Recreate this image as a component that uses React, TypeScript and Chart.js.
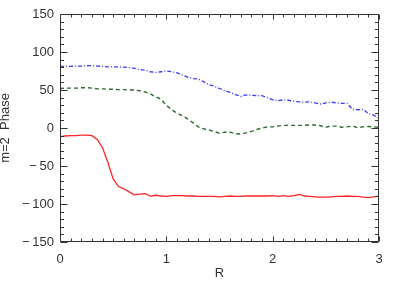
import React, { useEffect, useRef } from "react";
import { Chart, registerables } from "chart.js";

Chart.register(...registerables);

const R = [
  0.0, 0.05, 0.1, 0.15, 0.2, 0.25, 0.3, 0.35, 0.4, 0.45, 0.5, 0.55, 0.6, 0.65, 0.7, 0.75,
  0.8, 0.85, 0.9, 0.95, 1.0, 1.05, 1.1, 1.15, 1.2, 1.25, 1.3, 1.35, 1.4, 1.45, 1.5, 1.55,
  1.6, 1.65, 1.7, 1.75, 1.8, 1.85, 1.9, 1.95, 2.0, 2.05, 2.1, 2.15, 2.2, 2.25, 2.3, 2.35,
  2.4, 2.45, 2.5, 2.55, 2.6, 2.65, 2.7, 2.75, 2.8, 2.85, 2.9, 2.95, 3.0,
];

const bluePhase = [
  81, 81, 81, 81.5, 81.5, 82, 82, 81.5, 81, 80.5, 80.5, 80.5, 80, 79.5, 78.5, 77,
  76, 74, 73, 74, 75, 74, 72.5, 70, 67, 65, 64.5, 61, 57, 55, 52, 49,
  47, 44, 41.5, 43.5, 43, 42.5, 42.5, 40, 37, 36, 37, 36.5, 35, 34.5, 34, 34.5,
  33, 31.5, 33, 34, 33, 32.5, 32.5, 24.5, 24, 24.5, 19, 17, 13,
];

const greenPhase = [
  52, 52.5, 52.5, 52.5, 53, 53, 52.5, 51.5, 51.5, 51, 51, 50.5, 50.5, 50, 50, 49,
  47.5, 45, 41, 38, 30, 24, 19.5, 16, 12, 7, 1.5, -1, -2.5, -4.5, -7, -5.5,
  -5.5, -7.5, -8, -6.5, -4.5, -2, 0, 1.5, 1.5, 2.5, 3.5, 3.5, 3.5, 3.5, 3.5, 4,
  4, 3, 1, 2.5, 2.5, 1, 1.5, 2.5, 0.5, 1.5, 2, 1.5, 1,
];

const redPhase = [
  -11.5, -10.5, -10, -10, -9.5, -9.5, -10, -15, -26, -45, -67, -77, -80, -84, -88, -87,
  -86.5, -89.5, -88.5, -89.5, -90, -89, -89, -89, -89.5, -89.5, -90, -90, -90, -90, -90.5, -90,
  -89.5, -90, -90, -89.5, -89.5, -89.5, -89.5, -89.5, -89, -90, -89, -90, -89, -87.5, -89.5, -90,
  -90.5, -91, -91, -90.5, -90, -90, -89.5, -90, -90, -91, -91.5, -90.5, -89.5,
];

const xTickValues = [0, 1, 2, 3];
const yTickValues = [-150, -100, -50, 0, 50, 100, 150];

const AXIS_COLOR = "#333333";
const TEXT_COLOR = "#333333";
const FONT = "'Liberation Sans', Arial, Helvetica, sans-serif";

const frameTicks = {
  id: "frameTicks",
  afterDraw(chart: any) {
    const { ctx, chartArea: a, scales } = chart;
    const xs = scales.x;
    const ys = scales.y;
    ctx.save();
    ctx.strokeStyle = AXIS_COLOR;
    ctx.lineWidth = 1;
    const L = Math.round(a.left) + 0.5;
    const Rt = Math.round(a.right) - 0.5;
    const T = Math.round(a.top) + 0.5;
    const B = Math.round(a.bottom) - 0.5;
    ctx.beginPath();
    ctx.rect(L, T, Rt - L, B - T);
    ctx.stroke();
    ctx.beginPath();
    for (let i = 0; i <= 30; i++) {
      const v = i / 10;
      const px = Math.round(xs.getPixelForValue(v)) + 0.5;
      const len = i % 10 === 0 ? 5 : 3;
      ctx.moveTo(px, B);
      ctx.lineTo(px, B - len);
      ctx.moveTo(px, T);
      ctx.lineTo(px, T + len);
    }
    for (let v = -150; v <= 150; v += 10) {
      const py = Math.round(ys.getPixelForValue(v)) + 0.5;
      const len = v % 50 === 0 ? 7 : 3.5;
      ctx.moveTo(L, py);
      ctx.lineTo(L + len, py);
      ctx.moveTo(Rt, py);
      ctx.lineTo(Rt - len, py);
    }
    ctx.stroke();
    ctx.restore();
  },
};

export default function App() {
  const ref = useRef<HTMLCanvasElement | null>(null);

  useEffect(() => {
    if (!ref.current) return;
    const mk = (ys: number[]) => R.map((r, i) => ({ x: r, y: ys[i] }));
    const chart = new Chart(ref.current, {
      type: "line",
      data: {
        datasets: [
          {
            label: "blue",
            data: mk(bluePhase),
            borderColor: "#3a3aff",
            borderWidth: 1.3,
            borderDash: [4, 2, 1, 2],
            pointRadius: 0,
            fill: false,
          },
          {
            label: "green",
            data: mk(greenPhase),
            borderColor: "#2f6a2f",
            borderWidth: 1.4,
            borderDash: [4, 3],
            pointRadius: 0,
            fill: false,
          },
          {
            label: "red",
            data: mk(redPhase),
            borderColor: "#ff2626",
            borderWidth: 1.3,
            pointRadius: 0,
            fill: false,
          },
        ],
      },
      options: {
        responsive: false,
        animation: false,
        events: [],
        layout: { padding: { top: 14, right: 20, left: 0, bottom: 0 } },
        plugins: {
          legend: { display: false },
          tooltip: { enabled: false },
          title: { display: false },
        },
        scales: {
          x: {
            type: "linear",
            min: 0,
            max: 3,
            afterFit: (s: any) => {
              s.height = 43;
            },
            afterBuildTicks: (s: any) => {
              s.ticks = xTickValues.map((v) => ({ value: v }));
            },
            grid: { display: false, drawTicks: false },
            border: { display: false },
            ticks: {
              padding: 10,
              color: TEXT_COLOR,
              font: { family: FONT, size: 13 },
              maxRotation: 0,
              callback: (v: any) => String(v),
            },
            title: {
              display: true,
              text: "R",
              color: TEXT_COLOR,
              font: { family: FONT, size: 13 },
              padding: { top: 0, bottom: 4 },
            },
          },
          y: {
            type: "linear",
            min: -150,
            max: 150,
            afterFit: (s: any) => {
              s.width = 60;
            },
            afterBuildTicks: (s: any) => {
              s.ticks = yTickValues.map((v) => ({ value: v }));
            },
            grid: { display: false, drawTicks: false },
            border: { display: false },
            ticks: {
              padding: 6,
              color: TEXT_COLOR,
              font: { family: FONT, size: 13 },
              callback: (v: any) =>
                Number(v) < 0 ? "\u2212\u2009" + String(Math.abs(Number(v))) : String(v),
            },
            title: {
              display: true,
              text: "m=2  Phase",
              color: TEXT_COLOR,
              font: { family: FONT, size: 13, lineHeight: 0.85 },
              padding: { top: 0, bottom: 0 },
            },
          },
        },
      },
      plugins: [frameTicks],
    });
    return () => chart.destroy();
  }, []);

  return (
    <div style={{ position: "fixed", left: 0, top: 0, width: 399, height: 285, background: "#fff" }}>
      <canvas ref={ref} width={399} height={285} style={{ width: 399, height: 285, display: "block" }} />
    </div>
  );
}
